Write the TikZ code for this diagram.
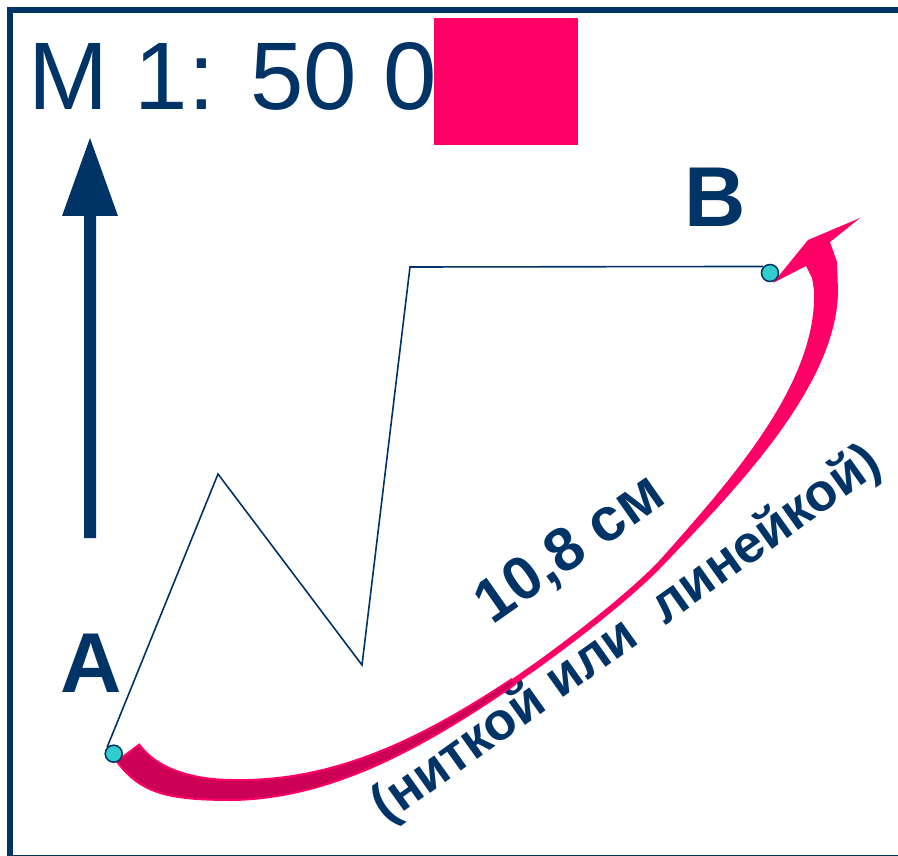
\documentclass[tikz,border=0pt]{standalone}
\usepackage{fontspec}
\setmainfont{Liberation Sans}
\definecolor{navy}{RGB}{0,51,102}
\definecolor{hotpink}{RGB}{255,0,102}
\definecolor{darkpink}{RGB}{204,0,85}
\definecolor{dotcyan}{RGB}{51,204,204}
\tikzset{
	point/.style={draw=navy,fill=dotcyan,circle,line width=1.5pt,minimum size=17pt,inner sep=0pt},
	letter/.style={text=navy,font=\fontsize{85}{85}\selectfont\bfseries,inner sep=0pt,anchor=base west},
	slanted/.style={text=navy,rotate=35,inner sep=0pt}
}
\begin{document}
\begin{tikzpicture}[x=1pt,y=-1pt]
		\clip (0,0) rectangle (898,856);
		\fill[white] (0,0) rectangle (898,856);
		\draw[navy,line width=6pt] (10,10) rectangle (910,858);
		
		% scale, partly hidden
		\node[text=navy,font=\fontsize{96}{96}\selectfont,inner sep=0pt,anchor=base west] (title) at (28,110) {М 1: 50 000};
		\fill[hotpink] (434,18) rectangle (578,145);
		
		% north arrow
		\fill[navy] (84,538) -- (84,216) -- (62,216) -- (90,138) -- (118,216) -- (96,216) -- (96,538) -- cycle;
		
		\node[letter] (A) at (60,692) {A};
		\node[letter] (B) at (684,227) {B};
		
		\node[slanted,font=\fontsize{61}{61}\selectfont\bfseries] (len) at (571,550) {10,8 см};
		\node[slanted,rotate=0.5,font=\fontsize{53}{53}\selectfont\bfseries] (how) at (627,635) {(ниткой или\ \ линейкой)};
		
		% curved arrow
		\fill[hotpink] (139.2,744.6) .. controls (157,769) and (193,780) .. (233,780)
			.. controls (333,782) and (419.5,740.3) .. (511.3,679.5)
			.. controls (552.8,651.5) and (627.8,595) .. (661.8,558)
			.. controls (726.3,484.6) and (818,385) .. (814,290)
			-- (812,278) -- (806,266) -- (773,283) -- (808,240) -- (860,218) -- (830,242) -- (837,262) -- (838,290)
			.. controls (838,385) and (733.7,491.4) .. (666.2,562)
			.. controls (632.2,599) and (556.2,656.5) .. (514.7,684.5)
			.. controls (423.9,746.9) and (333,798) .. (233,800)
			.. controls (168,800) and (140.8,793.4) .. (116.8,761.4) -- cycle;
		\filldraw[fill=darkpink,draw=hotpink,line width=2pt] (139.2,744.6) .. controls (157,769) and (193,780) .. (233,780)
			.. controls (333,782) and (419.5,740.3) .. (511.3,679.5) -- (514.7,684.5)
			.. controls (423.9,746.9) and (333,798) .. (233,800)
			.. controls (168,800) and (140.8,793.4) .. (116.8,761.4) -- cycle;
		
		\node[point] (ptA) at (113.7,753.7) {};
		\node[point] (ptB) at (770,273) {};
		\coordinate (z1) at (218,474);
		\coordinate (z2) at (362,665);
		\coordinate (z3) at (410,267);
		\draw[navy,line width=1.6pt] (ptA.135) -- (z1) -- (z2) -- (z3) -- (ptB.135);
\end{tikzpicture}
\end{document}
